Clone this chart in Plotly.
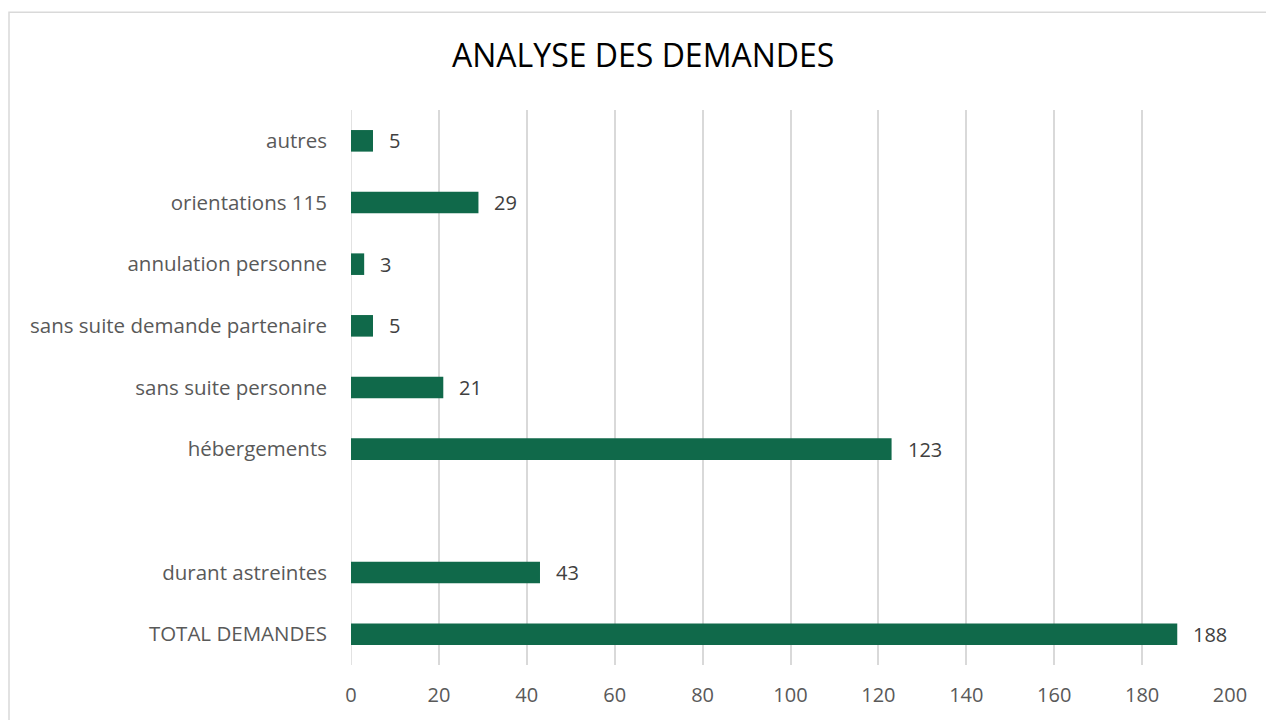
import plotly.graph_objects as go

categories = ["TOTAL DEMANDES", "durant astreintes", " ", "hébergements",
              "sans suite personne", "sans suite demande partenaire",
              "annulation personne", "orientations 115", "autres"]
values = [188, 43, None, 123, 21, 5, 3, 29, 5]
x_ticks = [0, 20, 40, 60, 80, 100, 120, 140, 160, 180, 200]

BAR = "#10694A"
W, H = 1266, 720
L, R, T, B = 351, 1230, 110, 667
FONT = "Open Sans"

fig = go.Figure()
fig.add_trace(go.Bar(
    x=values, y=categories, orientation="h",
    marker=dict(color=BAR, line=dict(width=0)),
    width=0.35, hoverinfo="skip",
))

for c, v in zip(categories, values):
    if v is None:
        continue
    fig.add_annotation(x=v, y=c, text=str(v), showarrow=False,
                       xanchor="left", xshift=14,
                       font=dict(family=FONT, size=20, color="#404040"))

def px(xp):
    return (xp - L) / (R - L)

def py(yp):
    return (B - yp) / (B - T)

fig.add_shape(type="rect", xref="paper", yref="paper",
              x0=px(9), x1=px(1280), y0=py(730), y1=py(12),
              line=dict(color="#d9d9d9", width=1.5), fillcolor="rgba(0,0,0,0)",
              layer="below")

fig.update_layout(
    width=W, height=H,
    margin=dict(l=L, r=W - R, t=T, b=H - B),
    paper_bgcolor="white", plot_bgcolor="white",
    showlegend=False,
    title=dict(text="ANALYSE DES DEMANDES", x=0.508, xanchor="center",
               y=1 - 56 / H, yanchor="middle",
               font=dict(family=FONT, size=32, color="#000000")),
    xaxis=dict(range=[0, 200], tickvals=x_ticks, showgrid=True,
               gridcolor="#d9d9d9", gridwidth=1.5, zeroline=False,
               showline=False, ticks="", ticklabelstandoff=16,
               tickfont=dict(family=FONT, size=20, color="#595959")),
    yaxis=dict(categoryorder="array", categoryarray=categories,
               range=[-0.5, 8.5], showgrid=False, zeroline=False,
               showline=False, ticks="", ticklabelstandoff=23,
               tickfont=dict(family=FONT, size=20.5, color="#595959")),
)
fig.add_vline(x=0, line=dict(color="#d9d9d9", width=1.5), layer="below")

fig.write_html("out.html", config={"displayModeBar": False},
               post_script="document.body.style.margin='0';document.body.style.overflow='hidden';")
